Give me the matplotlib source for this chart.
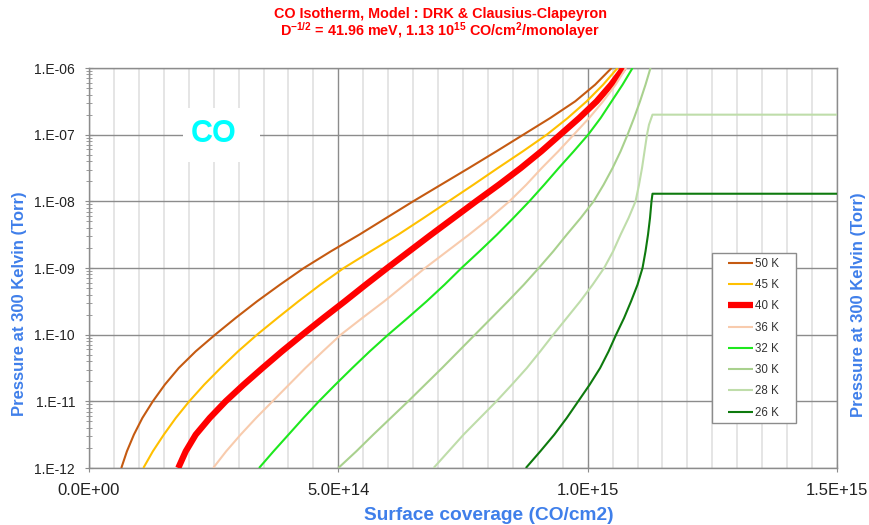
import numpy as np
import matplotlib
matplotlib.use("Agg")
import matplotlib.pyplot as plt
from matplotlib.patches import Rectangle
from matplotlib.ticker import FixedLocator, LogLocator, NullFormatter, MultipleLocator

plt.rcParams['font.family'] = ['Liberation Sans', 'DejaVu Sans']
plt.rcParams['mathtext.fontset'] = 'custom'
plt.rcParams['mathtext.rm'] = 'Liberation Sans:bold'
plt.rcParams['mathtext.bf'] = 'Liberation Sans:bold'
plt.rcParams['mathtext.it'] = 'Liberation Sans:bold'

# ---- data (coverage in units of 1e14 CO/cm2, log10 of pressure in Torr) ----
labels = ["50 K", "45 K", "40 K", "36 K", "32 K", "30 K", "28 K", "26 K"]
colors = ["#C55A11", "#FFC000", "#FF0000", "#F8CBAD", "#1EE81E", "#A9D18E", "#BFDDAA", "#0E7A0E"]
widths = [1.5, 1.5, 4.5, 1.5, 1.5, 1.5, 1.5, 1.5]

logp_std = [-12.0, -11.75, -11.5, -11.25, -11.0, -10.75, -10.5, -10.25, -10.0,
            -9.75, -9.5, -9.25, -9.0, -8.75, -8.5, -8.25, -8.0,
            -7.75, -7.5, -7.25, -7.0, -6.75, -6.5, -6.25, -6.0]

cov_50 = [0.648, 0.76, 0.90, 1.07, 1.28, 1.52, 1.80, 2.14, 2.53,
          2.94, 3.37, 3.83, 4.31, 4.85, 5.42, 5.96, 6.50,
          7.06, 7.62, 8.17, 8.71, 9.25, 9.75, 10.15, 10.48]
cov_45 = [1.09, 1.28, 1.50, 1.74, 2.01, 2.31, 2.64, 2.99, 3.37,
          3.78, 4.20, 4.64, 5.11, 5.65, 6.20, 6.71, 7.21,
          7.71, 8.20, 8.70, 9.18, 9.60, 9.98, 10.31, 10.60]
cov_40 = [1.79, 1.94, 2.14, 2.42, 2.74, 3.10, 3.48, 3.87, 4.28,
          4.70, 5.13, 5.55, 5.98, 6.42, 6.86, 7.31, 7.76,
          8.22, 8.66, 9.07, 9.45, 9.83, 10.18, 10.47, 10.72]
cov_36 = [2.49, 2.75, 3.04, 3.35, 3.68, 4.01, 4.34, 4.69, 5.05,
          5.48, 5.92, 6.33, 6.74, 7.18, 7.62, 8.04, 8.43,
          8.77, 9.08, 9.41, 9.72, 10.03, 10.31, 10.56, 10.77]
cov_32 = [3.41, 3.70, 4.00, 4.30, 4.61, 4.94, 5.28, 5.63, 6.00,
          6.39, 6.77, 7.13, 7.47, 7.83, 8.18, 8.51, 8.83,
          9.13, 9.42, 9.72, 10.01, 10.26, 10.48, 10.70, 10.90]
cov_30 = [5.00, 5.36, 5.70, 6.05, 6.40, 6.74, 7.08, 7.41, 7.74,
          8.07, 8.40, 8.72, 9.02, 9.31, 9.58, 9.86, 10.12,
          10.32, 10.50, 10.66, 10.80, 10.93, 11.05, 11.16, 11.26]

logp_28 = [-12.0, -11.75, -11.5, -11.25, -11.0, -10.75, -10.5, -10.25, -10.0,
           -9.75, -9.5, -9.25, -9.0, -8.75, -8.5, -8.25, -8.0,
           -7.75, -7.5, -7.25, -7.0, -6.85, -6.7, -6.7]
cov_28 = [6.91, 7.21, 7.51, 7.84, 8.17, 8.48, 8.78, 9.05, 9.31,
          9.58, 9.85, 10.10, 10.33, 10.51, 10.66, 10.82, 10.96,
          11.03, 11.09, 11.14, 11.19, 11.23, 11.30, 15.0]

logp_26 = [-12.0, -11.75, -11.5, -11.25, -11.0, -10.75, -10.5, -10.25, -10.0,
           -9.75, -9.5, -9.25, -9.0, -8.75, -8.5, -8.25, -8.0, -7.886, -7.886]
cov_26 = [8.76, 9.05, 9.33, 9.58, 9.81, 10.04, 10.25, 10.42, 10.57,
          10.73, 10.87, 11.00, 11.10, 11.16, 11.21, 11.25, 11.28, 11.30, 15.0]

series = [
    (cov_50, logp_std), (cov_45, logp_std), (cov_40, logp_std), (cov_36, logp_std),
    (cov_32, logp_std), (cov_30, logp_std), (cov_28, logp_28), (cov_26, logp_26),
]

x_ticks = [0.0, 5e14, 1e15, 1.5e15]
x_ticklabels = ["0.0E+00", "5.0E+14", "1.0E+15", "1.5E+15"]
y_ticks = [1e-12, 1e-11, 1e-10, 1e-9, 1e-8, 1e-7, 1e-6]
y_ticklabels = ["1.E-12", "1.E-11", "1.E-10", "1.E-09", "1.E-08", "1.E-07", "1.E-06"]

title1 = "CO Isotherm, Model : DRK & Clausius-Clapeyron"
title2 = r"D$^{-1/2}$ = 41.96 meV, 1.13 10$^{15}$ CO/cm$^{2}$/monolayer"
ylabel = "Pressure at 300 Kelvin (Torr)"
xlabel = "Surface coverage (CO/cm2)"

# ---- figure ----
W, H = 869, 525
fig = plt.figure(figsize=(W / 100, H / 100), dpi=100)
ax = fig.add_axes([89 / W, 57 / H, 748 / W, 400 / H])

for (cov, lp), lab, col, lw in zip(series, labels, colors, widths):
    xs = np.array(cov) * 1e14
    ys = 10.0 ** np.array(lp)
    ax.plot(xs, ys, color=col, lw=lw, label=lab, solid_joinstyle='round',
            solid_capstyle='butt', zorder=3)

ax.set_yscale('log')
ax.set_xlim(0, 1.5e15)
ax.set_ylim(1e-12, 1e-6)

ax.xaxis.set_major_locator(FixedLocator(x_ticks))
ax.set_xticklabels(x_ticklabels)
ax.xaxis.set_minor_locator(MultipleLocator(5e13))
ax.yaxis.set_major_locator(FixedLocator(y_ticks))
ax.set_yticklabels(y_ticklabels)
ax.yaxis.set_minor_locator(LogLocator(base=10, subs=np.arange(2, 10)))
ax.yaxis.set_minor_formatter(NullFormatter())

ax.grid(True, which='major', axis='both', color='#8C8C8C', lw=1.0, zorder=1)
ax.grid(True, which='minor', axis='x', color='#E3E3E3', lw=1.3, zorder=0)
ax.set_axisbelow(True)

for s in ax.spines.values():
    s.set_color('#8C8C8C')
    s.set_linewidth(1.0)

ax.tick_params(axis='both', which='major', direction='inout', length=6, color='#8C8C8C',
               labelcolor='#222222')
ax.tick_params(axis='y', which='major', labelsize=10, pad=7)
ax.tick_params(axis='x', which='major', labelsize=12, pad=8)
ax.tick_params(axis='y', which='minor', direction='inout', length=4, color='#8C8C8C')
ax.tick_params(axis='x', which='minor', length=0)

# CO label with white box
def ax_frac(px, py):
    return ((px - 89) / 748, (468 - py) / 400)

bx0, by0 = ax_frac(183, 162)
bx1, by1 = ax_frac(260, 108)
ax.add_patch(Rectangle((bx0, by0), bx1 - bx0, by1 - by0, transform=ax.transAxes,
                       facecolor='white', edgecolor='none', zorder=4))
tx, ty = ax_frac(214, 134)
ax.text(tx, ty, "CO", transform=ax.transAxes, color='#00FFFF', fontsize=22,
        fontweight='bold', ha='center', va='center', zorder=5)

# legend with manual frame
lx0, ly0 = ax_frac(712, 423)
lx1, ly1 = ax_frac(796, 253)
ax.add_patch(Rectangle((lx0, ly0), lx1 - lx0, ly1 - ly0, transform=ax.transAxes,
                       facecolor='white', edgecolor='#8C8C8C', lw=1.0, zorder=6))
ax_, ay_ = ax_frac(728, 258)
leg = ax.legend(loc='upper left', bbox_to_anchor=(ax_, ay_), borderaxespad=0, borderpad=0,
                fontsize=8.3, labelspacing=0.8, handlelength=2.17, handletextpad=0.15,
                frameon=False)
leg.set_zorder(7)
for t in leg.get_texts():
    t.set_color('#333333')

fig.text(440 / W, 1 - 14 / H, title1, color='#FF0000', fontsize=10.4, fontweight='bold',
         ha='center', va='center')
fig.text(440 / W, 1 - 31 / H, title2, color='#FF0000', fontsize=10.4, fontweight='bold',
         ha='center', va='center')

blue = '#3F7FEA'
fig.text(20 / W, 1 - 304 / H, ylabel, color=blue, fontsize=12, fontweight='bold',
         rotation=90, ha='center', va='center')
fig.text(858 / W, 1 - 305 / H, ylabel, color=blue, fontsize=12, fontweight='bold',
         rotation=90, ha='center', va='center')
fig.text(489 / W, 1 - 515 / H, xlabel, color=blue, fontsize=13.8, fontweight='bold',
         ha='center', va='center')

fig.savefig("out.png", dpi=100)
